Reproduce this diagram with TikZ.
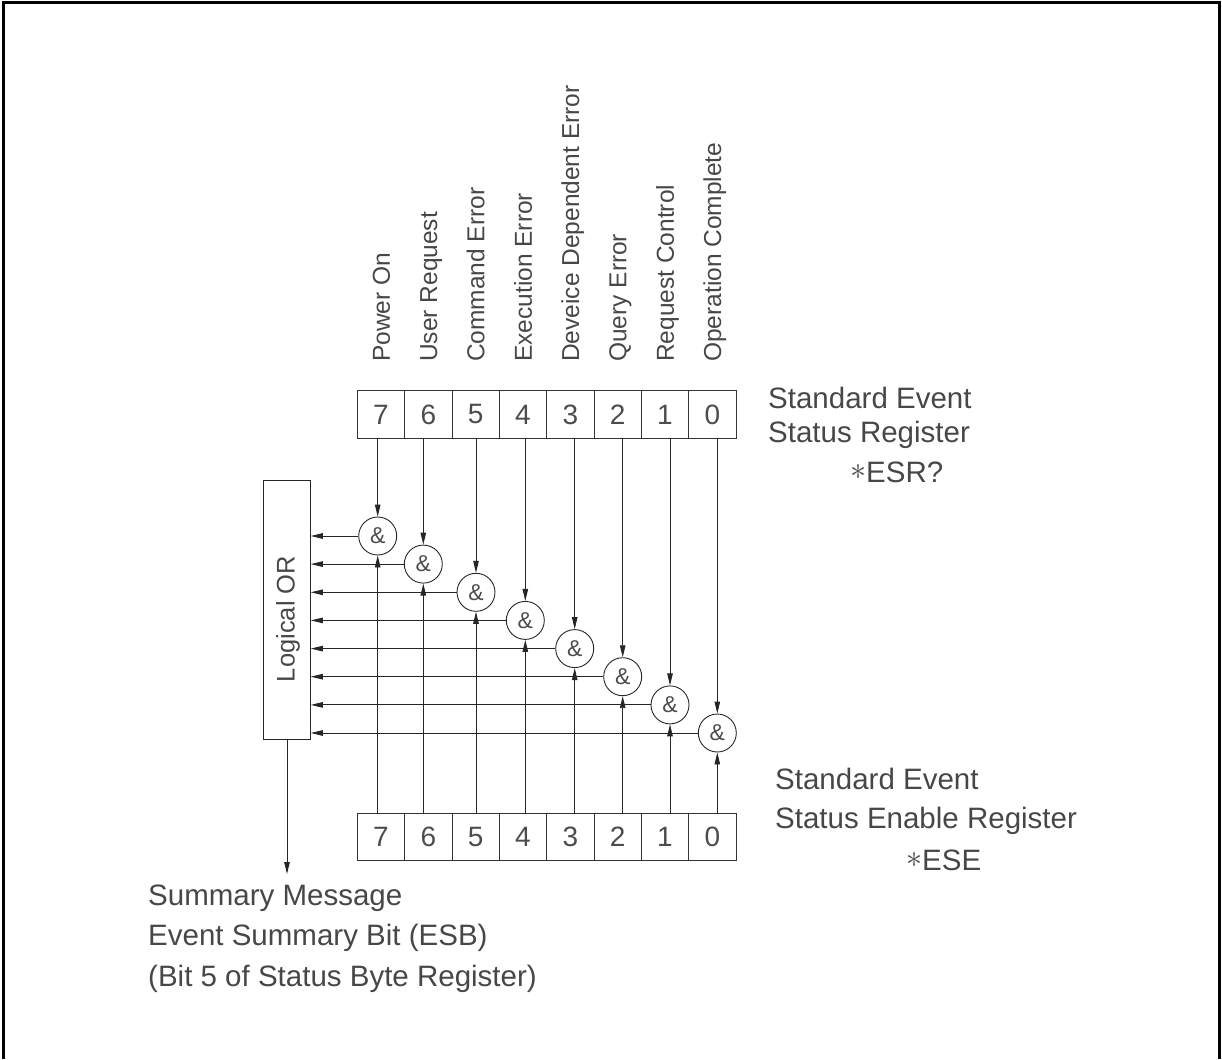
\documentclass[tikz,border=0pt]{standalone}
\usepackage{fontspec}
\usepackage{graphicx}
\setmainfont{Liberation Sans}
\usetikzlibrary{arrows.meta}
\newcommand\regstar{\raisebox{2.5pt}{\resizebox{16pt}{!}{$\ast$}}}
\begin{document}
\begin{tikzpicture}[x=1pt,y=-1pt,
  txt/.style={text=black!72, inner sep=0pt},
  cell/.style={draw=black!80, line width=0.9pt, minimum width=47.34pt, minimum height=47.5pt, inner sep=0pt, text=black!70, font=\fontsize{28}{28}\selectfont},
  andg/.style={draw=black!85, circle, line width=0.9pt, minimum size=38pt, inner sep=0pt, text=black!70, font=\fontsize{23}{23}\selectfont},
  arr/.style={line width=0.9pt, draw=black!85, -{Triangle[length=12pt,width=5.5pt]}},
  vlab/.style={txt, rotate=90, anchor=base west, font=\fontsize{24.5}{24.5}\selectfont},
  rlab/.style={txt, anchor=base west, font=\fontsize{29.5}{29.5}\selectfont},
]
\useasboundingbox (0,0) rectangle (1222,1059);
% frame
\draw[line width=3pt] (3,1059) -- (3,3) -- (1219,3) -- (1219,1059);

% registers
\foreach \d/\x in {7/380.97,6/428.31,5/475.65,4/522.99,3/570.33,2/617.67,1/665.01,0/712.35} {
  \node[cell] (t\d) at (\x,414.5) {\d};
  \node[cell] (b\d) at (\x,837) {\d};
}

% AND gates
\foreach \d/\x/\y in {7/377.7/536,6/423.3/564.1,5/476/592.3,4/525.3/620.4,3/574.7/648.6,2/622.7/676.7,1/670/704.9,0/717.3/733} {
  \node[andg] (a\d) at (\x,\y) {\&};
}

% Logical OR
\node[draw=black!85, line width=0.9pt, minimum width=46.6pt, minimum height=258.6pt, inner sep=0pt] (or) at (287,610.1) {};
\node[txt, rotate=90, font=\fontsize{25.5}{25.5}\selectfont] (ortxt) at (288,619) {Logical OR};

% connectors
\foreach \d in {7,6,5,4,3,2,1,0} {
  \draw[arr] (t\d.south -| a\d) -- (a\d.north);
  \draw[arr] (b\d.north -| a\d) -- (a\d.south);
  \draw[arr] (a\d.west) -- (a\d.west -| or.east);
}

% summary arrow
\coordinate (sumtip) at (287,874);
\draw[arr] (or.south) -- (sumtip);

% bit labels
\foreach \d/\x/\t in {7/380.97/Power On,6/428.31/User Request,5/475.65/Command Error,4/522.99/Execution Error,3/570.33/Deveice Dependent Error,2/617.67/Query Error,1/665.01/Request Control,0/712.35/Operation Complete} {
  \node[vlab] (l\d) at (\x+8.8,362) {\t};
}

% register labels
\node[rlab] (esr1) at (768,408) {Standard Event};
\node[rlab] (esr2) at (768,442) {Status Register};
\node[rlab] (esr3) at (850,482) {\regstar ESR?};
\node[rlab] (ese1) at (775,789) {Standard Event};
\node[rlab] (ese2) at (775,828) {Status Enable Register};
\node[rlab] (ese3) at (906,870) {\regstar ESE};

% summary text
\node[rlab] (s1) at (148,905) {Summary Message};
\node[rlab] (s2) at (148,945) {Event Summary Bit (ESB)};
\node[rlab] (s3) at (148,986) {(Bit 5 of Status Byte Register)};
\end{tikzpicture}
\end{document}
